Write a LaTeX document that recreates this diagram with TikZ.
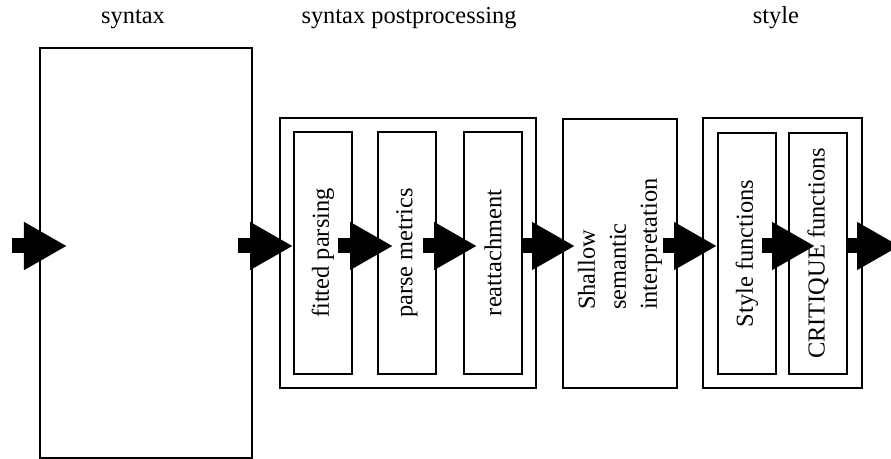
\documentclass[tikz,border=0pt]{standalone}
\usepackage{fontspec}
\setmainfont{Liberation Serif}
\usetikzlibrary{arrows.meta}
\begin{document}
\begin{tikzpicture}[x=1bp,y=-1bp,
  every node/.style={font=\fontsize{24.5}{31}\selectfont, inner sep=0pt, outer sep=0pt},
  bigbox/.style={draw, line width=1.4bp},
  outerbox/.style={draw, line width=2.2bp},
  inbox/.style={draw, line width=1.5bp, rotate=90, minimum height=58bp},
  blockarrow/.style={line width=15bp, -{Triangle[length=43bp,width=45bp]}},
]
\useasboundingbox (0,0) rectangle (891,459);
% titles
\node[anchor=base] (t1) at (133,24) {syntax};
\node[anchor=base] (t2) at (409,24) {syntax postprocessing};
\node[anchor=base] (t3) at (776,24) {style};
% boxes
\node[bigbox, minimum width=212bp, minimum height=410bp] (syn) at (146,253) {};
\node[outerbox, minimum width=256bp, minimum height=270bp] (post) at (408,253) {};
\node[inbox, minimum width=242bp] (fp) at (323,253) {fitted parsing};
\node[inbox, minimum width=242bp] (pm) at (407,253) {parse metrics};
\node[inbox, minimum width=242bp] (ra) at (493,253) {reattachment};
\node[bigbox, minimum width=114bp, minimum height=269bp] (sh) at (620,253.5) {};
\node[rotate=90, anchor=west, align=left] (sht) at (620,310) {Shallow\\semantic\\interpretation};
\node[outerbox, minimum width=159bp, minimum height=270bp] (sty) at (782.5,253) {};
\node[inbox, minimum width=241bp] (sf) at (747,253.5) {Style functions};
\node[inbox, minimum width=241bp] (cq) at (818,253.5) {CRITIQUE functions};
% arrow end points
\coordinate (a1s) at (12,246);  \coordinate (a1e) at (67,246);
\coordinate (a2s) at (238,246); \coordinate (a2e) at (293,246);
\coordinate (a3s) at (338,246); \coordinate (a3e) at (393,246);
\coordinate (a4s) at (423,246); \coordinate (a4e) at (477,246);
\coordinate (a5s) at (522,246); \coordinate (a5e) at (575,246);
\coordinate (a6s) at (663,246); \coordinate (a6e) at (717,246);
\coordinate (a7s) at (762,246); \coordinate (a7e) at (815,246);
\coordinate (a8s) at (847,246); \coordinate (a8e) at (900,246);
\foreach \i in {1,...,8} \draw[blockarrow] (a\i s) -- (a\i e);
\end{tikzpicture}
\end{document}
